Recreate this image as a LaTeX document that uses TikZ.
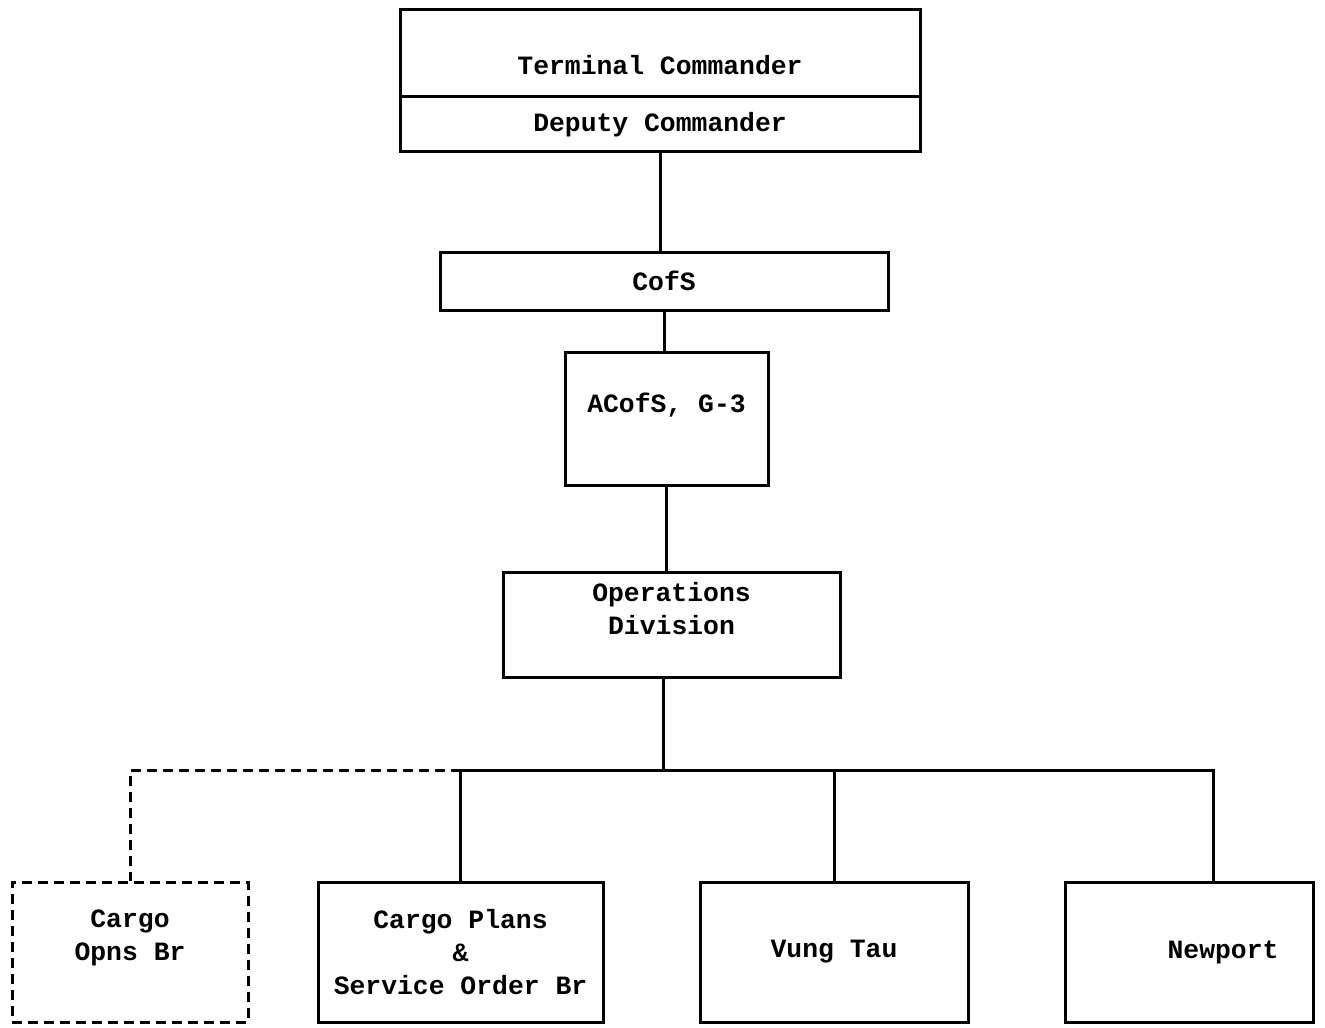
\documentclass[tikz,border=0pt]{standalone}
\usepackage{fontspec}
\setmonofont{Liberation Mono}
\usetikzlibrary{positioning}
\begin{document}
\begin{tikzpicture}[x=0.5pt,y=-0.5pt,
  box/.style={draw,line width=1.5pt,inner sep=0pt,align=center,
    font=\ttfamily\bfseries\fontsize{13.2}{16.5}\selectfont},
  low/.style={minimum height=70pt},
  wire/.style={line width=1.5pt},
  dotted wire/.style={line width=1.5pt,dash pattern=on 5pt off 3pt}
]
  \useasboundingbox (0,0) rectangle (1325,1027);
  % command chain
  \node[box,minimum width=260pt,minimum height=43.5pt,text height=24pt,text depth=3pt] (cmdr) at (660,53.5) {Terminal Commander};
  \node[box,minimum width=260pt,minimum height=27.5pt] (deputy) at (660,124.5) {Deputy Commander};
  \node[box,minimum width=224pt,minimum height=29pt] (cofs) at (664,281) {CofS};
  \node[box,minimum width=101.5pt,minimum height=66.5pt,text height=9.5pt,text depth=15.5pt] (acofs) at (666.5,418.5) {ACofS, G-3};
  \node[box,minimum width=168.5pt,minimum height=52.5pt] (ops) at (671.5,624.5) {Operations\\Division\\\mbox{}};
  % branches
  \node[box,low,minimum width=118pt,dotted wire] (opns) at (130,952) {Cargo\\Opns Br\\\mbox{}};
  \node[box,low,minimum width=142.5pt] (plans) at (460.5,952) {Cargo Plans\\\&\\Service Order Br};
  \node[box,low,minimum width=134pt] (vung) at (834,952) {Vung Tau};
  \node[box,low,minimum width=124pt] (newport) at (1189,952) {\hspace*{34pt}Newport};
  \coordinate (bus) at (663,770);
  \coordinate (newtap) at (1213,882);
  \draw[wire] (deputy.south) -- (deputy.south |- cofs.north);
  \draw[wire] (cofs.south) -- (cofs.south |- acofs.north);
  \draw[wire] (acofs.south) -- (acofs.south |- ops.north);
  \draw[wire] (ops.south -| bus) -- (bus);
  \draw[wire] (plans.north) |- (bus -| newtap) -- (newtap);
  \draw[wire] (vung.north) -- (vung.north |- bus);
  \draw[dotted wire] (plans.north |- bus) -| (opns.north);
\end{tikzpicture}
\end{document}
